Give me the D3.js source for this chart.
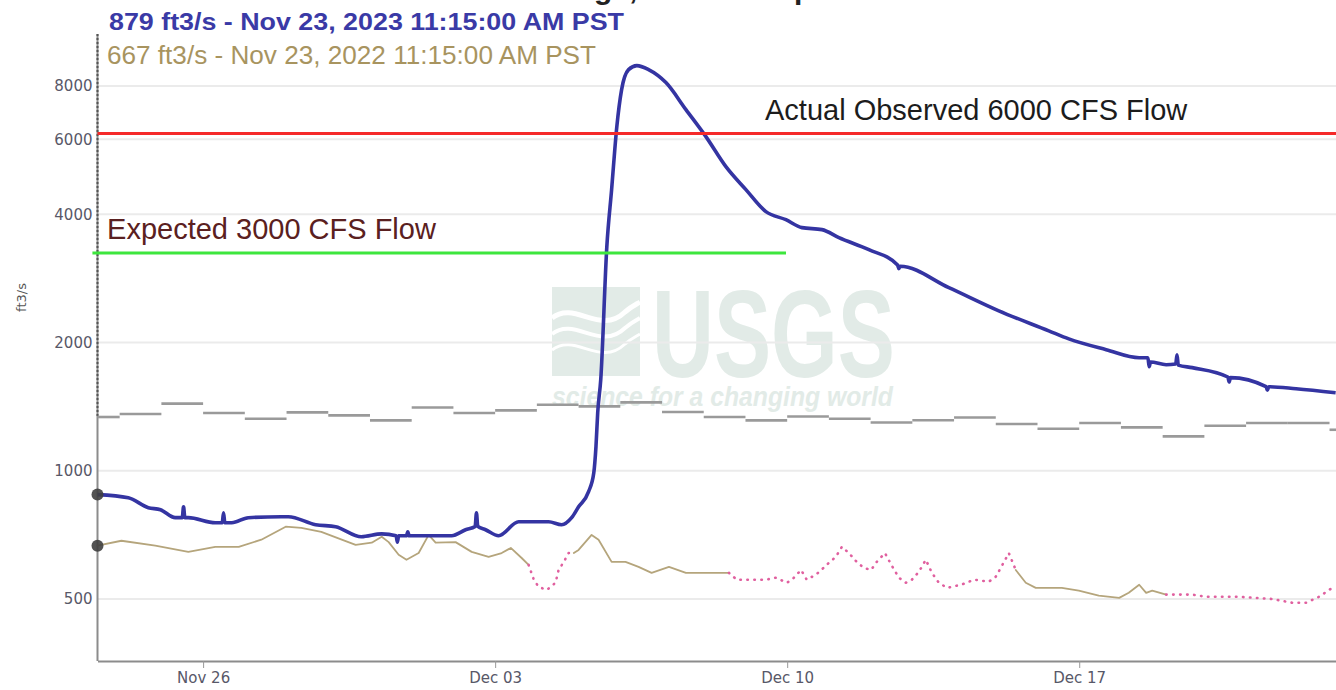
<!DOCTYPE html>
<html lang="en">
  <head>
    <meta charset="utf-8" />
    <title>Discharge, cubic feet per second</title>
    <script src="https://d3js.org/d3.v7.min.js"></script>
    <style>
      body { margin: 0; background: #fff; }
      text { font-family: "DejaVu Sans", sans-serif; }
    </style>
  </head>
  <body>
    <div id="graph"></div>
    <script>

    var yTickValues = [500, 1000, 2000, 4000, 6000, 8000];
    var xTickDates = ["2023-11-26", "2023-12-03", "2023-12-10", "2023-12-17"];
    var timeRange = ["2023-11-23T11:15", "2023-12-23T03:43"];

    var headerLines = [
      "879 ft3/s - Nov 23, 2023 11:15:00 AM PST",
      "667 ft3/s - Nov 23, 2022 11:15:00 AM PST"
    ];

    // current year, ft3/s
    var flow2023 = [
      ["2023-11-23T11:15", 879], ["2023-11-24T05:00", 864], ["2023-11-24T16:30", 819],
      ["2023-11-24T23:30", 810], ["2023-11-25T08:00", 776], ["2023-11-25T12:00", 776],
      ["2023-11-25T12:45", 823], ["2023-11-25T13:30", 776], ["2023-11-25T15:30", 776],
      ["2023-11-26T07:00", 755], ["2023-11-26T11:00", 755], ["2023-11-26T11:45", 797],
      ["2023-11-26T12:30", 755], ["2023-11-26T16:30", 755], ["2023-11-27T02:00", 776],
      ["2023-11-27T21:00", 780], ["2023-11-28T01:00", 780], ["2023-11-28T16:45", 747],
      ["2023-11-29T04:15", 739], ["2023-11-29T19:00", 700], ["2023-11-30T06:45", 711],
      ["2023-11-30T15:00", 704], ["2023-11-30T15:45", 680], ["2023-11-30T16:30", 704],
      ["2023-11-30T21:00", 704], ["2023-11-30T21:45", 719], ["2023-11-30T22:30", 704],
      ["2023-12-01T05:45", 704], ["2023-12-01T23:00", 704], ["2023-12-02T07:00", 727],
      ["2023-12-02T12:30", 740], ["2023-12-02T13:15", 797], ["2023-12-02T14:00", 740],
      ["2023-12-02T18:30", 727], ["2023-12-03T02:00", 704], ["2023-12-03T13:30", 759],
      ["2023-12-04T06:45", 759], ["2023-12-04T14:15", 747], ["2023-12-04T20:00", 776],
      ["2023-12-05T00:00", 823], ["2023-12-05T05:45", 893], ["2023-12-05T08:45", 989],
      ["2023-12-05T10:00", 1139], ["2023-12-05T11:00", 1368], ["2023-12-05T12:45", 1636],
      ["2023-12-05T16:15", 3357], ["2023-12-05T19:00", 4569], ["2023-12-05T22:00", 6424],
      ["2023-12-06T00:45", 7845], ["2023-12-06T04:45", 8741], ["2023-12-06T09:30", 8933],
      ["2023-12-06T16:15", 8741], ["2023-12-07T02:15", 8148], ["2023-12-07T13:45", 7042],
      ["2023-12-08T01:15", 6085], ["2023-12-08T12:45", 5173], ["2023-12-09T00:15", 4569],
      ["2023-12-09T11:45", 4057], ["2023-12-09T23:15", 3884], ["2023-12-10T08:30", 3721],
      ["2023-12-10T20:00", 3681], ["2023-12-11T05:45", 3525], ["2023-12-11T23:00", 3303],
      ["2023-12-12T15:30", 3040], ["2023-12-12T16:15", 2980], ["2023-12-12T17:00", 3020],
      ["2023-12-13T21:00", 2690], ["2023-12-15T01:45", 2373], ["2023-12-16T06:30", 2130],
      ["2023-12-16T18:00", 2039], ["2023-12-17T15:30", 1924], ["2023-12-18T10:30", 1842],
      ["2023-12-18T15:30", 1842], ["2023-12-18T16:15", 1755], ["2023-12-18T17:00", 1800],
      ["2023-12-19T02:00", 1774], ["2023-12-19T07:30", 1780], ["2023-12-19T08:15", 1872],
      ["2023-12-19T09:00", 1770], ["2023-12-19T17:00", 1746], ["2023-12-20T13:30", 1660],
      ["2023-12-20T14:15", 1615], ["2023-12-20T15:00", 1654], ["2023-12-21T11:30", 1575],
      ["2023-12-21T12:15", 1545], ["2023-12-21T13:00", 1575], ["2023-12-22T04:45", 1558],
      ["2023-12-23T03:30", 1525]
    ];

    // last year, ft3/s, third field = 1 where the value is estimated
    var flow2022 = [
      ["2022-11-23T11:15", 667, 0], ["2022-11-24T01:00", 685, 0], ["2022-11-24T20:30", 667, 0],
      ["2022-11-25T15:30", 645, 0], ["2022-11-26T07:00", 663, 0], ["2022-11-26T20:30", 663, 0],
      ["2022-11-27T09:30", 689, 0], ["2022-11-27T23:30", 739, 0], ["2022-11-28T08:30", 734, 0],
      ["2022-11-28T20:00", 719, 0], ["2022-11-29T07:45", 689, 0], ["2022-11-29T15:45", 670, 0],
      ["2022-11-30T01:00", 678, 0], ["2022-11-30T06:45", 700, 0], ["2022-11-30T10:45", 680, 0],
      ["2022-11-30T16:30", 635, 0], ["2022-11-30T21:00", 618, 0], ["2022-12-01T04:00", 641, 0],
      ["2022-12-01T09:45", 707, 0], ["2022-12-01T13:45", 678, 0], ["2022-12-02T01:15", 680, 0],
      ["2022-12-02T10:30", 645, 0], ["2022-12-02T20:15", 628, 0], ["2022-12-03T03:45", 641, 0],
      ["2022-12-03T09:00", 659, 0], ["2022-12-03T15:15", 624, 0], ["2022-12-03T19:15", 601, 0],
      ["2022-12-03T22:15", 555, 1], ["2022-12-04T01:00", 534, 1], ["2022-12-04T05:45", 525, 1],
      ["2022-12-04T10:45", 546, 1], ["2022-12-04T12:30", 585, 1], ["2022-12-04T15:30", 611, 1],
      ["2022-12-04T18:15", 641, 1], ["2022-12-04T21:15", 641, 1], ["2022-12-05T00:00", 652, 0],
      ["2022-12-05T07:30", 707, 0], ["2022-12-05T11:30", 689, 0], ["2022-12-05T19:00", 611, 0],
      ["2022-12-06T03:00", 611, 0], ["2022-12-06T10:30", 595, 0], ["2022-12-06T18:00", 576, 0],
      ["2022-12-07T04:00", 595, 0], ["2022-12-07T13:45", 576, 0], ["2022-12-08T04:30", 576, 0],
      ["2022-12-08T14:30", 576, 0], ["2022-12-08T19:00", 555, 1], ["2022-12-09T11:45", 555, 1],
      ["2022-12-09T17:30", 561, 1], ["2022-12-09T23:45", 546, 1], ["2022-12-10T02:45", 555, 1],
      ["2022-12-10T08:00", 585, 1], ["2022-12-10T11:15", 555, 1], ["2022-12-10T16:30", 570, 1],
      ["2022-12-10T21:00", 592, 1], ["2022-12-11T00:00", 608, 1], ["2022-12-11T04:00", 628, 1],
      ["2022-12-11T07:30", 663, 1], ["2022-12-11T11:30", 641, 1], ["2022-12-11T16:00", 611, 1],
      ["2022-12-11T20:00", 592, 1], ["2022-12-12T00:15", 585, 1], ["2022-12-12T03:30", 611, 1],
      ["2022-12-12T08:15", 641, 1], ["2022-12-12T12:15", 598, 1], ["2022-12-12T16:15", 561, 1],
      ["2022-12-12T20:15", 546, 1], ["2022-12-12T23:45", 555, 1], ["2022-12-13T03:45", 579, 1],
      ["2022-12-13T07:45", 618, 1], ["2022-12-13T11:15", 576, 1], ["2022-12-13T15:15", 546, 1],
      ["2022-12-13T20:00", 531, 1], ["2022-12-14T04:00", 540, 1], ["2022-12-14T11:30", 555, 1],
      ["2022-12-14T20:00", 549, 1], ["2022-12-15T00:00", 564, 1], ["2022-12-15T03:30", 598, 1],
      ["2022-12-15T07:30", 641, 1], ["2022-12-15T11:30", 585, 1], ["2022-12-15T17:15", 546, 0],
      ["2022-12-15T23:00", 531, 0], ["2022-12-16T14:00", 531, 0], ["2022-12-16T23:45", 523, 0],
      ["2022-12-17T11:15", 509, 0], ["2022-12-17T23:00", 503, 0], ["2022-12-18T04:30", 517, 0],
      ["2022-12-18T10:30", 540, 0], ["2022-12-18T14:30", 517, 0], ["2022-12-18T18:00", 523, 0],
      ["2022-12-19T02:00", 512, 0], ["2022-12-19T05:30", 512, 1], ["2022-12-19T17:00", 512, 1],
      ["2022-12-20T01:00", 506, 1], ["2022-12-20T20:00", 506, 1], ["2022-12-21T15:00", 500, 1],
      ["2022-12-22T02:30", 490, 1], ["2022-12-22T10:30", 490, 1], ["2022-12-22T18:00", 506, 1],
      ["2022-12-23T01:30", 531, 1]
    ];

    // daily statistic (grey steps), one value per day from Nov 23
    var medianStart = "2023-11-23";
    var dailyMedian = [
      1337, 1359, 1437, 1366, 1325, 1371, 1349, 1313, 1408, 1366,
      1386, 1429, 1416, 1447, 1374, 1337, 1313, 1341, 1325, 1298,
      1314, 1334, 1287, 1255, 1294, 1264, 1204, 1275, 1294, 1294, 1248
    ];

    // hand-drawn reference lines
    var refLabels = ["Actual Observed 6000 CFS Flow", "Expected 3000 CFS Flow"];
    var refValues = [6185, 3245];
    var refFrom = ["2023-11-23T11:15", "2023-11-23T08:20"];
    var refTo = ["2023-12-23T03:43", "2023-12-09T23:19"];
    var refLabelAt = ["2023-12-09T11:15", "2023-11-23T16:45"];
    var refColors = ["#f52a2a", "#3de63d"];
    var refTextColors = ["#1c1c1c", "#5a2020"];

    // ---- drawing ----
    var w = 1336, h = 690;
    var plot = {left: 97.5, right: 1336, top: 34, bottom: 661};

    var parseTime = d3.utcParse("%Y-%m-%dT%H:%M");
    var parseDay = d3.utcParse("%Y-%m-%d");

    var x = d3.scaleUtc()
      .domain(timeRange.map(parseTime))
      .range([plot.left, plot.right]);

    var y = d3.scaleLog()
      .domain([500, 8000])
      .range([599, 86]);

    var svg = d3.select("#graph")
      .append("svg")
        .attr("width", w)
        .attr("height", h)
        .style("display", "block");

    // title, cut off at the top of the screenshot
    svg.append("text")
      .attr("x", 484)
      .attr("y", -1)
      .style("font-family", "Liberation Sans, Arial, sans-serif")
      .style("font-weight", "bold")
      .style("font-size", "30px")
      .attr("fill", "#222")
      .text("Discharge, cubic feet per second");

    // watermark
    var wm = svg.append("g").attr("fill", "#e2ebe7");
    wm.append("rect")
      .attr("x", 552).attr("y", 287).attr("width", 88).attr("height", 89);
    [318, 334, 350].forEach(function(yy, i) {
      wm.append("path")
        .attr("d", "M552," + yy + " C575," + (yy - 18) + " 600," + (yy + 18) + " 625," + (yy - 6) +
                   " C632," + (yy - 12) + " 637," + (yy - 14) + " 640," + (yy - 16))
        .attr("fill", "none")
        .attr("stroke", "#fff")
        .attr("stroke-width", 5 - i);
    });
    wm.append("text")
      .attr("x", 652).attr("y", 377)
      .attr("textLength", 243)
      .attr("lengthAdjust", "spacingAndGlyphs")
      .style("font-family", "Liberation Sans Narrow, Liberation Sans, sans-serif")
      .style("font-weight", "bold")
      .style("font-size", "125px")
      .text("USGS");
    wm.append("text")
      .attr("x", 552).attr("y", 406)
      .attr("textLength", 341)
      .attr("lengthAdjust", "spacingAndGlyphs")
      .style("font-family", "Liberation Sans, sans-serif")
      .style("font-style", "italic")
      .style("font-weight", "bold")
      .style("font-size", "27px")
      .text("science for a changing world");

    // gridlines
    svg.append("g")
      .selectAll("line")
      .data(yTickValues)
      .join("line")
        .attr("x1", plot.left)
        .attr("x2", plot.right)
        .attr("y1", d => y(d))
        .attr("y2", d => y(d))
        .attr("stroke", "#ebebeb")
        .attr("stroke-width", 2);

    // y axis
    var yAxis = svg.append("g")
      .attr("transform", `translate(${plot.left},0)`)
      .call(d3.axisLeft(y).tickValues(yTickValues).tickFormat(d3.format("d")).tickSize(0).tickPadding(5));
    yAxis.select(".domain").remove();
    yAxis.selectAll("text")
      .style("font-family", "DejaVu Sans, sans-serif")
      .style("font-size", "15px")
      .attr("fill", "#585868");

    svg.append("line")
      .attr("x1", plot.left).attr("x2", plot.left)
      .attr("y1", plot.top).attr("y2", plot.bottom)
      .attr("stroke", "#8c8c8c")
      .attr("stroke-width", 2);
    svg.append("line")
      .attr("x1", plot.left).attr("x2", plot.left)
      .attr("y1", plot.top).attr("y2", 418)
      .attr("stroke", "#555")
      .attr("stroke-width", 2)
      .attr("stroke-dasharray", "2,2");

    svg.append("text")
      .attr("transform", `translate(26,${(plot.top + plot.bottom) / 2 - 50}) rotate(-90)`)
      .attr("text-anchor", "middle")
      .style("font-size", "13px")
      .attr("fill", "#555")
      .text("ft3/s");

    // x axis
    var xAxis = svg.append("g")
      .attr("transform", `translate(0,${plot.bottom})`)
      .call(d3.axisBottom(x)
        .tickValues(xTickDates.map(parseDay))
        .tickFormat(d3.utcFormat("%b %d"))
        .tickSize(7)
        .tickSizeOuter(0)
        .tickPadding(4));
    xAxis.select(".domain").attr("stroke", "#8c8c8c").attr("stroke-width", 2);
    xAxis.selectAll(".tick line").attr("stroke", "#999");
    xAxis.selectAll("text")
      .style("font-family", "DejaVu Sans, sans-serif")
      .style("font-size", "15px")
      .attr("fill", "#585868");

    // daily statistic steps
    var t0 = x.domain()[0], t1 = x.domain()[1];
    var steps = dailyMedian.map(function(v, i) {
      var a = d3.utcDay.offset(parseDay(medianStart), i);
      var b = d3.utcDay.offset(a, 1);
      return {a: a < t0 ? t0 : a, b: b > t1 ? t1 : b, v: v};
    });
    svg.append("g")
      .selectAll("line")
      .data(steps)
      .join("line")
        .attr("x1", d => x(d.a))
        .attr("x2", d => x(d.b))
        .attr("y1", d => y(d.v))
        .attr("y2", d => y(d.v))
        .attr("stroke", "#9a9a9a")
        .attr("stroke-width", 2.6);

    var line = d3.line()
      .x(d => x(d.t))
      .y(d => y(d.v));

    // last year, shifted onto this year's dates
    var last = flow2022.map(d => ({t: d3.utcYear.offset(parseTime(d[0]), 1), v: d[1], est: d[2]}));
    var runs = [];
    last.forEach(function(p, i) {
      if (i === 0) return;
      var r = runs[runs.length - 1];
      if (r && r.est === p.est) r.pts.push(p);
      else runs.push({est: p.est, pts: [last[i - 1], p]});
    });
    svg.append("g")
      .selectAll("path")
      .data(runs)
      .join("path")
        .attr("d", d => line(d.pts))
        .attr("fill", "none")
        .attr("stroke", d => d.est ? "#e0609f" : "#b5a57c")
        .attr("stroke-width", d => d.est ? 2.6 : 1.8)
        .attr("stroke-linecap", "round")
        .attr("stroke-linejoin", "round")
        .attr("stroke-dasharray", d => d.est ? "0.5,6.5" : null);

    // this year
    var current = flow2023.map(d => ({t: parseTime(d[0]), v: d[1]}));
    svg.append("path")
      .datum(current)
      .attr("d", line.curve(d3.curveMonotoneX))
      .attr("fill", "none")
      .attr("stroke", "#3434a2")
      .attr("stroke-width", 3.6)
      .attr("stroke-linejoin", "round");

    // reference lines and their labels
    refLabels.forEach(function(label, i) {
      svg.append("line")
        .attr("x1", x(parseTime(refFrom[i])))
        .attr("x2", x(parseTime(refTo[i])))
        .attr("y1", y(refValues[i]))
        .attr("y2", y(refValues[i]))
        .attr("stroke", refColors[i])
        .attr("stroke-width", 3);
      svg.append("text")
        .attr("x", x(parseTime(refLabelAt[i])))
        .attr("y", y(refValues[i]) - 14)
        .style("font-family", "Liberation Sans, Arial, sans-serif")
        .style("font-size", "29px")
        .attr("fill", refTextColors[i])
        .text(label);
    });

    // hover markers at the first point of each year
    svg.append("g")
      .selectAll("circle")
      .data([current[0], last[0]])
      .join("circle")
        .attr("cx", d => x(t0))
        .attr("cy", d => y(d.v))
        .attr("r", 6)
        .attr("fill", "#3f3f3f")
        .attr("opacity", 0.9);

    // tooltip header
    svg.append("g")
      .selectAll("text")
      .data(headerLines)
      .join("text")
        .attr("x", (d, i) => i ? 107 : 109)
        .attr("y", (d, i) => i ? 64 : 30)
        .attr("textLength", (d, i) => i ? 489 : 515)
        .attr("lengthAdjust", "spacingAndGlyphs")
        .style("font-family", "Liberation Sans, Arial, sans-serif")
        .style("font-size", (d, i) => i ? "25px" : "24px")
        .style("font-weight", (d, i) => i ? "normal" : "bold")
        .attr("fill", (d, i) => i ? "#a8945f" : "#3a3aa6")
        .text(d => d);

    </script>
  </body>
</html>
